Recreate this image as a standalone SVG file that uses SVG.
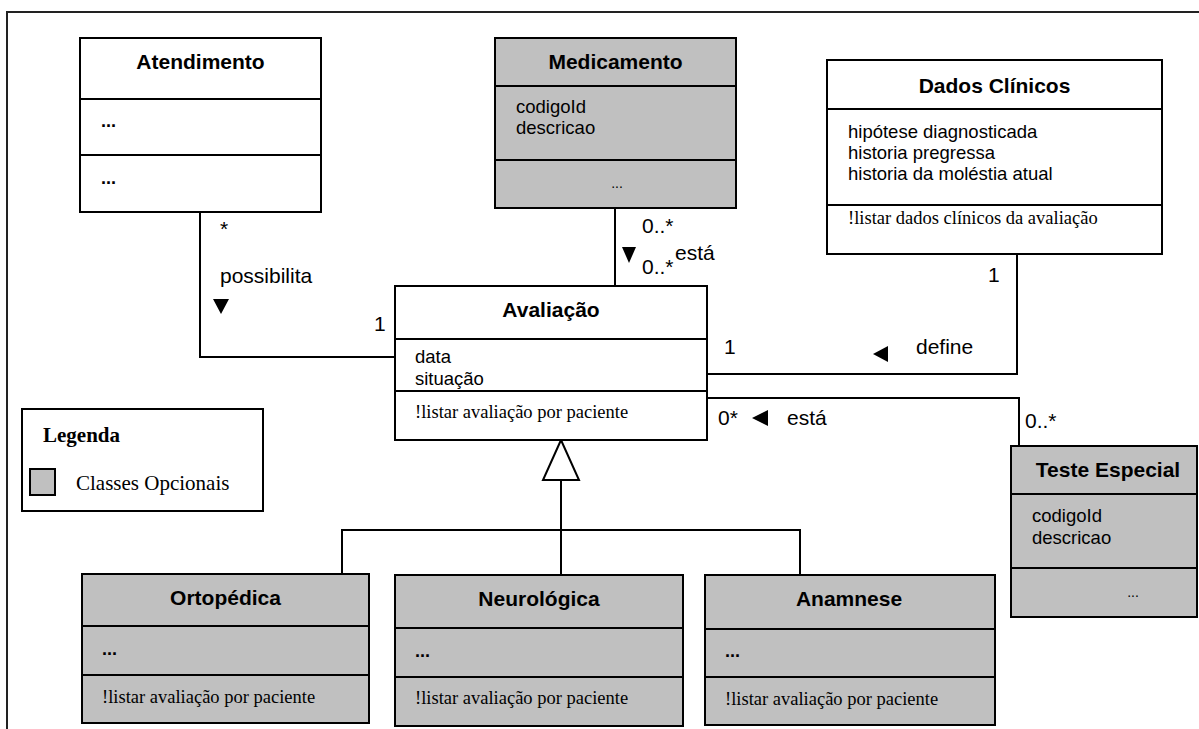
<svg xmlns="http://www.w3.org/2000/svg" width="1199" height="729" viewBox="0 0 1199 729">
<style>
.box{stroke:#000;stroke-width:2}
.w{fill:#fff}
.g{fill:#c0c0c0}
.div{stroke:#000;stroke-width:2}
.title{font-family:"Liberation Sans",Arial,sans-serif;font-weight:bold;font-size:21px;text-anchor:middle;fill:#000}
.attr{font-family:"Liberation Sans",Arial,sans-serif;font-size:18.5px;fill:#000}
.op{font-family:"Liberation Serif","Times New Roman",serif;font-size:18.5px;fill:#000}
.dots{font-family:"Liberation Sans",Arial,sans-serif;font-weight:bold;font-size:18px;fill:#000}
.ldots{font-family:"Liberation Sans",Arial,sans-serif;font-size:14px;fill:#000;text-anchor:middle}
.lbl{font-family:"Liberation Sans",Arial,sans-serif;font-size:21px;fill:#000}
.conn{fill:none;stroke:#000;stroke-width:2}
.tri{fill:#000}
</style>
<rect x="0" y="0" width="1199" height="729" fill="#fff"/>
<path d="M7,729 V12 H1199" fill="none" stroke="#222" stroke-width="2"/>

<g id="connectors">
  <path class="conn" d="M200,212 V357 H395"/>
  <path class="conn" d="M615,208 V286"/>
  <path class="conn" d="M707,374 H1017 V254"/>
  <path class="conn" d="M707,398 H1019 V446"/>
  <path class="conn" d="M561,480 V575 M342,574 V530 H800 V575"/>
  <polygon points="561,440 543,480 579,480" fill="#fff" stroke="#000" stroke-width="2"/>
  <polygon class="tri" points="213,299 229,299 221,314"/>
  <polygon class="tri" points="622,247 636,247 629,263"/>
  <polygon class="tri" points="888,346 888,362 873,354"/>
  <polygon class="tri" points="768,410 768,426 752,418"/>
  <text class="lbl" x="220" y="236">*</text>
  <text class="lbl" x="220" y="283">possibilita</text>
  <text class="lbl" x="374" y="331">1</text>
  <text class="lbl" x="642" y="233">0..*</text>
  <text class="lbl" x="642" y="274">0..*</text>
  <text class="lbl" x="675" y="260">está</text>
  <text class="lbl" x="988" y="282">1</text>
  <text class="lbl" x="724" y="354">1</text>
  <text class="lbl" x="916" y="354">define</text>
  <text class="lbl" x="718" y="425">0*</text>
  <text class="lbl" x="787" y="425">está</text>
  <text class="lbl" x="1025" y="428">0..*</text>
</g>

<g id="atendimento">
  <rect class="box w" x="80" y="38" width="241" height="174"/>
  <line class="div" x1="80" y1="99" x2="321" y2="99"/>
  <line class="div" x1="80" y1="155" x2="321" y2="155"/>
  <text class="title" x="200.5" y="69">Atendimento</text>
  <text class="dots" x="101" y="127">...</text>
  <text class="dots" x="101" y="184">...</text>
</g>

<g id="medicamento">
  <rect class="box g" x="495" y="38" width="241" height="170"/>
  <line class="div" x1="495" y1="86" x2="736" y2="86"/>
  <line class="div" x1="495" y1="160" x2="736" y2="160"/>
  <text class="title" x="615.5" y="69">Medicamento</text>
  <text class="attr" x="516" y="113">codigoId</text>
  <text class="attr" x="516" y="134">descricao</text>
  <text class="ldots" x="617" y="188">...</text>
</g>

<g id="dados-clinicos">
  <rect class="box w" x="827" y="60" width="335" height="194"/>
  <line class="div" x1="827" y1="109" x2="1162" y2="109"/>
  <line class="div" x1="827" y1="205" x2="1162" y2="205"/>
  <text class="title" x="994.5" y="93">Dados Clínicos</text>
  <text class="attr" x="848" y="138">hipótese diagnosticada</text>
  <text class="attr" x="848" y="159">historia pregressa</text>
  <text class="attr" x="848" y="180">historia da moléstia atual</text>
  <text class="op" x="848" y="224" font-size="16">!listar dados clínicos da avaliação</text>
</g>

<g id="avaliacao">
  <rect class="box w" x="395" y="286" width="312" height="154"/>
  <line class="div" x1="395" y1="339" x2="707" y2="339"/>
  <line class="div" x1="395" y1="391" x2="707" y2="391"/>
  <text class="title" x="551" y="317">Avaliação</text>
  <text class="attr" x="415" y="363">data</text>
  <text class="attr" x="415" y="385">situação</text>
  <text class="op" x="415" y="418">!listar avaliação por paciente</text>
</g>

<g id="legenda">
  <rect x="22" y="409" width="241" height="102" fill="#fff" stroke="#000" stroke-width="2"/>
  <text x="43" y="442" font-family="'Liberation Serif','Times New Roman',serif" font-weight="bold" font-size="21">Legenda</text>
  <rect x="30" y="469" width="25" height="26" fill="#c0c0c0" stroke="#000" stroke-width="2"/>
  <text x="76" y="490" font-family="'Liberation Serif','Times New Roman',serif" font-size="21">Classes Opcionais</text>
</g>

<g id="teste-especial">
  <rect class="box g" x="1011" y="446" width="186" height="171"/>
  <line class="div" x1="1011" y1="494" x2="1197" y2="494"/>
  <line class="div" x1="1011" y1="568" x2="1197" y2="568"/>
  <text class="title" x="1108" y="477">Teste Especial</text>
  <text class="attr" x="1032" y="522">codigoId</text>
  <text class="attr" x="1032" y="544">descricao</text>
  <text class="ldots" x="1133" y="597">...</text>
</g>

<g id="ortopedica">
  <rect class="box g" x="82" y="574" width="287" height="149"/>
  <line class="div" x1="82" y1="626" x2="369" y2="626"/>
  <line class="div" x1="82" y1="675" x2="369" y2="675"/>
  <text class="title" x="225.5" y="605">Ortopédica</text>
  <text class="dots" x="102" y="655">...</text>
  <text class="op" x="102" y="703">!listar avaliação por paciente</text>
</g>

<g id="neurologica">
  <rect class="box g" x="395" y="575" width="288" height="151"/>
  <line class="div" x1="395" y1="628" x2="683" y2="628"/>
  <line class="div" x1="395" y1="677" x2="683" y2="677"/>
  <text class="title" x="539" y="606">Neurológica</text>
  <text class="dots" x="415" y="657">...</text>
  <text class="op" x="415" y="704">!listar avaliação por paciente</text>
</g>

<g id="anamnese">
  <rect class="box g" x="705" y="575" width="290" height="150"/>
  <line class="div" x1="705" y1="629" x2="995" y2="629"/>
  <line class="div" x1="705" y1="677" x2="995" y2="677"/>
  <text class="title" x="849" y="606">Anamnese</text>
  <text class="dots" x="725" y="657">...</text>
  <text class="op" x="725" y="705">!listar avaliação por paciente</text>
</g>
</svg>
